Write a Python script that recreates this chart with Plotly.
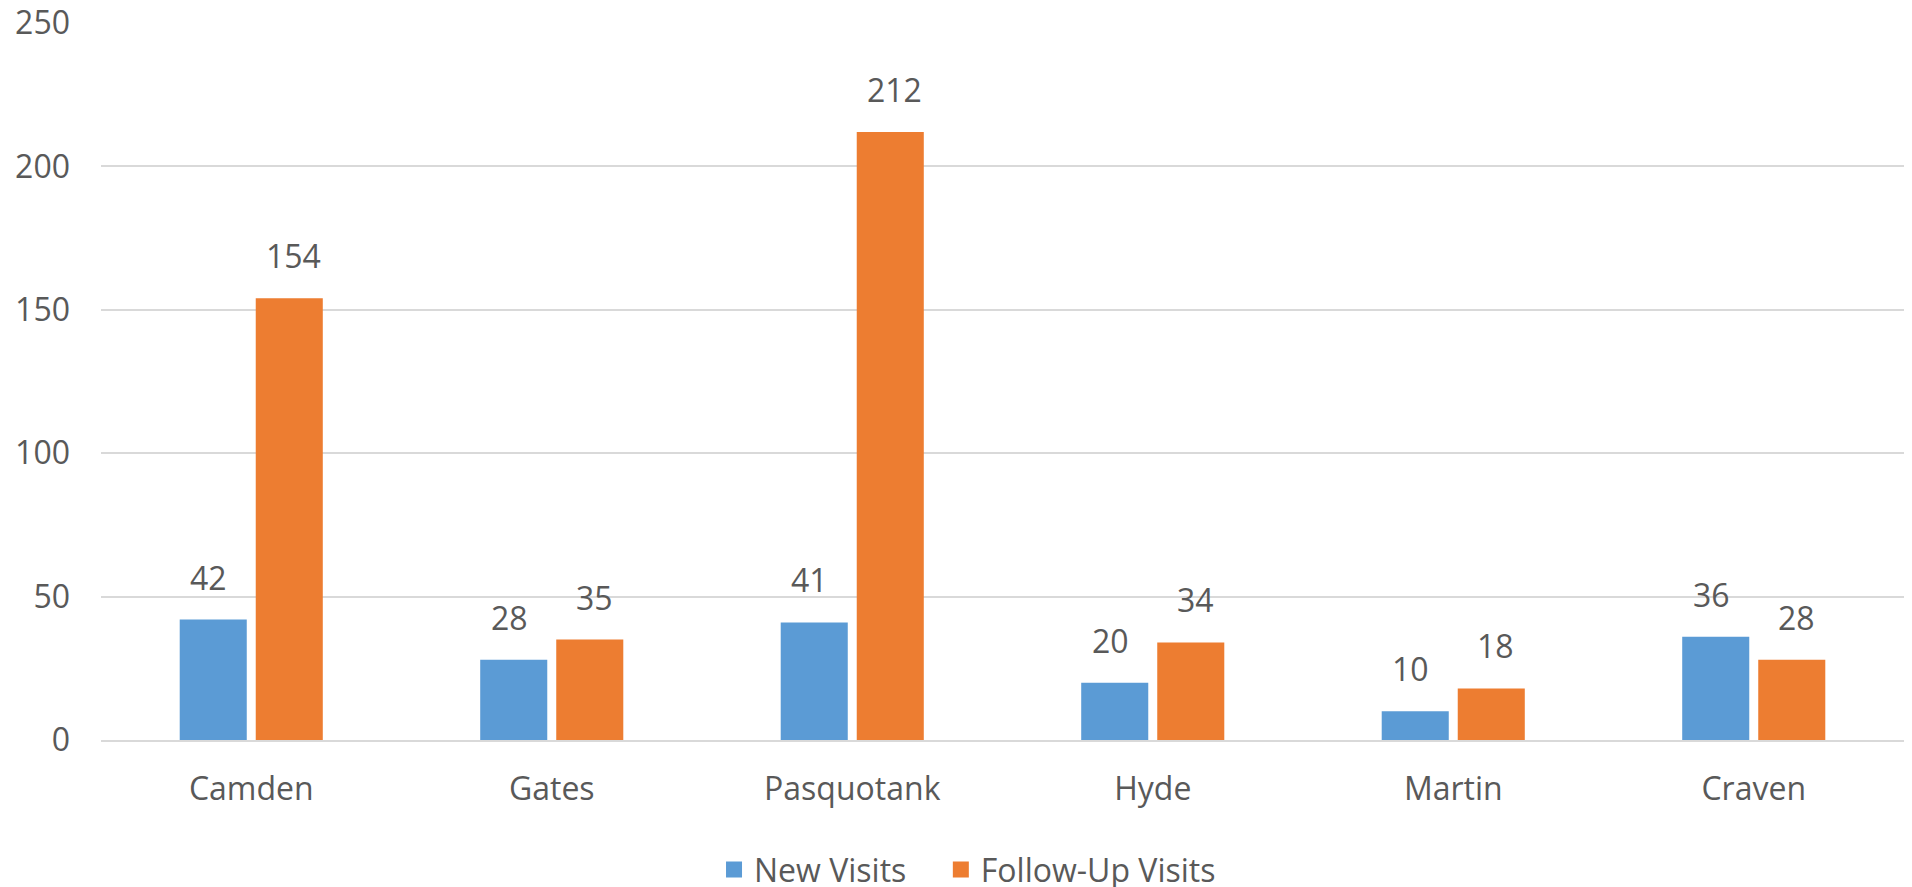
import plotly.graph_objects as go

categories = ["Camden", "Gates", "Pasquotank", "Hyde", "Martin", "Craven"]
new_visits = [42, 28, 41, 20, 10, 36]
follow_up_visits = [154, 35, 212, 34, 18, 28]
y_ticks = [0, 50, 100, 150, 200, 250]

BLUE = "#5B9BD5"
ORANGE = "#ED7D31"
TEXT = "#595959"
FONT = "Open Sans"
FS = 32

fig = go.Figure()
fig.add_trace(go.Bar(name="New Visits", x=categories, y=new_visits, showlegend=False,
                     legendgroup="new", marker=dict(color=BLUE, line=dict(width=0))))
fig.add_trace(go.Bar(name="Follow-Up Visits", x=categories, y=follow_up_visits, showlegend=False,
                     legendgroup="fu", marker=dict(color=ORANGE, line=dict(width=0))))
# legend entries with larger square swatches
fig.add_trace(go.Scatter(name="New Visits", x=[None], y=[None], mode="markers", legendgroup="new",
                         legend="legend",
                         marker=dict(symbol="square", size=22, color=BLUE)))
fig.add_trace(go.Scatter(name="Follow-Up Visits", x=[None], y=[None], mode="markers", legendgroup="fu",
                         legend="legend2",
                         marker=dict(symbol="square", size=22, color=ORANGE)))

for series, shift in ((new_visits, -42.5), (follow_up_visits, 42.5)):
    for c, v in zip(categories, series):
        fig.add_annotation(x=c, y=v, text=str(v), showarrow=False,
                           xshift=shift, yshift=19, yanchor="bottom",
                           font=dict(family=FONT, size=FS, color=TEXT))

legend_common = dict(orientation="h", xanchor="left", y=-0.181, yanchor="middle",
                     font=dict(family=FONT, size=FS, color=TEXT), itemwidth=30,
                     itemsizing="trace", bgcolor="rgba(0,0,0,0)")

fig.update_layout(
    width=1912, height=887,
    margin=dict(l=101, r=8, t=23, b=147, autoexpand=False),
    paper_bgcolor="white", plot_bgcolor="white",
    barmode="group", bargap=0.494, bargroupgap=0.118,
    font=dict(family=FONT, size=FS, color=TEXT),
    legend=dict(x=0.340, **legend_common),
    legend2=dict(x=0.4658, **legend_common),
    showlegend=True,
)
fig.update_yaxes(range=[0, 250], tickvals=y_ticks, showgrid=True, gridcolor="#D9D9D9",
                 gridwidth=1.5, zeroline=False, showline=False, ticks="",
                 ticklabelstandoff=30, tickfont=dict(family=FONT, size=FS, color=TEXT))
fig.update_xaxes(showgrid=False, showline=True, linecolor="#D9D9D9", linewidth=1.5,
                 ticks="", ticklabelstandoff=20,
                 tickfont=dict(family=FONT, size=FS, color=TEXT))

fig.write_html("out.html", config={"displayModeBar": False},
               post_script="document.body.style.margin='0';")
